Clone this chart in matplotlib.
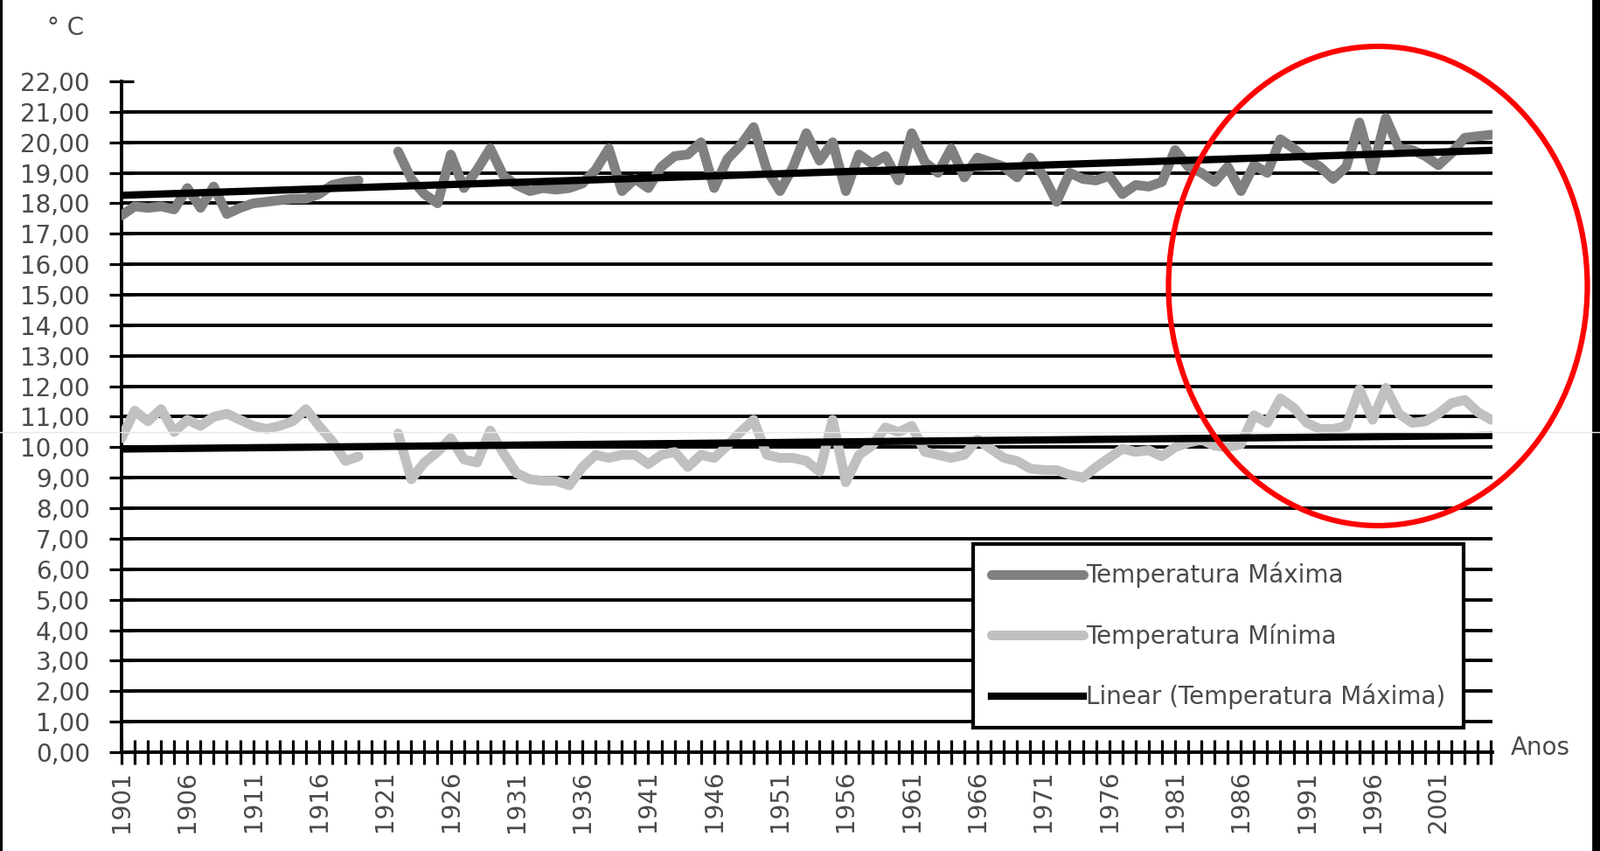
import numpy as np
import matplotlib
matplotlib.use("Agg")
import matplotlib.pyplot as plt
from matplotlib.patches import Ellipse
from matplotlib.lines import Line2D
from matplotlib.ticker import FuncFormatter, MultipleLocator, FixedLocator

nan = np.nan

# yearly values (1920-1921 missing)
years = list(range(1901, 2006))

t_max = [
    17.6, 17.9, 17.85, 17.9, 17.8, 18.5, 17.85, 18.55, 17.65, 17.85,   # 1901-1910
    18.0, 18.05, 18.1, 18.15, 18.15, 18.3, 18.6, 18.7, 18.75, nan,     # 1911-1920
    nan, 19.7, 18.8, 18.3, 18.0, 19.6, 18.5, 19.1, 19.8, 18.9,         # 1921-1930
    18.6, 18.4, 18.5, 18.45, 18.5, 18.65, 19.1, 19.8, 18.4, 18.8,      # 1931-1940
    18.5, 19.2, 19.55, 19.6, 20.0, 18.5, 19.45, 19.9, 20.5, 19.1,      # 1941-1950
    18.4, 19.2, 20.3, 19.4, 20.0, 18.4, 19.6, 19.3, 19.55, 18.75,      # 1951-1960
    20.3, 19.35, 19.0, 19.8, 18.85, 19.5, 19.35, 19.2, 18.85, 19.5,    # 1961-1970
    18.9, 18.05, 19.0, 18.8, 18.75, 18.9, 18.3, 18.6, 18.55, 18.7,     # 1971-1980
    19.75, 19.2, 19.0, 18.7, 19.2, 18.4, 19.25, 19.0, 20.1, 19.8,      # 1981-1990
    19.45, 19.2, 18.8, 19.2, 20.65, 19.1, 20.8, 19.8, 19.75, 19.55,    # 1991-2000
    19.25, 19.65, 20.15, 20.2, 20.25,                                  # 2001-2005
]

t_min = [
    10.3, 11.2, 10.85, 11.25, 10.5, 10.9, 10.7, 11.0, 11.1, 10.9,      # 1901-1910
    10.7, 10.6, 10.7, 10.85, 11.25, 10.7, 10.2, 9.55, 9.7, nan,        # 1911-1920
    nan, 10.45, 8.95, 9.5, 9.85, 10.3, 9.6, 9.5, 10.55, 9.8,           # 1921-1930
    9.15, 8.95, 8.9, 8.9, 8.75, 9.35, 9.75, 9.65, 9.75, 9.75,          # 1931-1940
    9.45, 9.75, 9.85, 9.35, 9.75, 9.65, 10.05, 10.5, 10.9, 9.75,       # 1941-1950
    9.65, 9.65, 9.55, 9.2, 10.9, 8.85, 9.75, 10.05, 10.65, 10.5,       # 1951-1960
    10.7, 9.85, 9.75, 9.65, 9.75, 10.25, 9.95, 9.65, 9.55, 9.3,        # 1961-1970
    9.25, 9.25, 9.1, 9.0, 9.35, 9.65, 9.95, 9.85, 9.9, 9.7,            # 1971-1980
    10.0, 10.15, 10.25, 10.05, 10.0, 10.1, 11.05, 10.8, 11.6, 11.3,    # 1981-1990
    10.8, 10.6, 10.6, 10.7, 11.9, 10.9, 11.95, 11.1, 10.8, 10.85,      # 1991-2000
    11.1, 11.45, 11.55, 11.15, 10.9,                                   # 2001-2005
]

label_years = list(range(1901, 2002, 5))
y_ticks = list(range(0, 23))

x = np.array(years, dtype=float)
tmax = np.array(t_max)
tmin = np.array(t_min)


def trend(xv, yv):
    ok = ~np.isnan(yv)
    k, b = np.polyfit(xv[ok], yv[ok], 1)
    return k * xv + b


W, H = 1831, 973
fig = plt.figure(figsize=(W / 100, H / 100), dpi=100)
ax = fig.add_axes([139 / W, 1 - 860 / H, (1707 - 139) / W, (860 - 93) / H])

txt = "#4a4a4a"
fs = 20

ax.plot(x, tmax, color="#808080", lw=8, solid_joinstyle="round",
        solid_capstyle="round", label="Temperatura Máxima", zorder=3)
ax.plot(x, tmin, color="#c0c0c0", lw=8, solid_joinstyle="round",
        solid_capstyle="round", label="Temperatura Mínima", zorder=3)
ax.plot(x, trend(x, tmax), color="black", lw=6,
        label="Linear (Temperatura Máxima)", zorder=4)
ax.plot(x, trend(x, tmin), color="black", lw=6, zorder=4)

ax.set_xlim(1901, 2005.1)
ax.set_ylim(0, 22)

ax.yaxis.set_major_locator(FixedLocator(y_ticks))
ax.yaxis.set_major_formatter(FuncFormatter(lambda v, p: f"{v:.2f}".replace(".", ",")))
ax.xaxis.set_major_locator(FixedLocator(label_years))
ax.xaxis.set_minor_locator(MultipleLocator(1))
ax.set_xticklabels([str(y) for y in label_years], rotation=90)

ax.set_axisbelow(True)
ax.yaxis.grid(True, color="black", lw=2.8)
ax.yaxis.get_gridlines()[-1].set_visible(False)
ax.yaxis.get_gridlines()[0].set_visible(False)

for s in ["top", "right"]:
    ax.spines[s].set_visible(False)
for s in ["left", "bottom"]:
    ax.spines[s].set_color("black")
    ax.spines[s].set_linewidth(2.8)

ax.tick_params(axis="both", which="both", direction="inout", length=20,
               width=2.3, color="black", labelcolor=txt, labelsize=fs)
ax.tick_params(axis="y", pad=16)
ax.tick_params(axis="x", pad=5)

leg = ax.legend(loc="upper left", bbox_to_anchor=(1113 / W, 1 - 622 / H),
                bbox_transform=fig.transFigure, borderaxespad=0,
                fontsize=fs, labelcolor=txt, handlelength=3.8,
                handletextpad=0.1, labelspacing=1.45, borderpad=0.75,
                fancybox=False, framealpha=1, edgecolor="black")
leg.get_frame().set_linewidth(3)
leg.set_zorder(10)

fig.text(54 / W, 1 - 40 / H, "° C", fontsize=fs, color=txt, ha="left", va="baseline")
fig.text(1728 / W, 1 - 855 / H, "Anos", fontsize=fs, color=txt, ha="left", va="center")

# red circle drawn over the recent years
fig.add_artist(Ellipse((1576 / W, 1 - 327 / H), 479 / W, 548 / H,
                       transform=fig.transFigure, fill=False,
                       edgecolor="#ff0000", lw=4.5, zorder=20))

# frame of the scanned image
fig.add_artist(Line2D([1.5 / W, 1.5 / W], [0, 1], transform=fig.transFigure, color="black", lw=3))
fig.add_artist(Line2D([1826 / W, 1826 / W], [0, 1], transform=fig.transFigure, color="black", lw=7))
fig.add_artist(Line2D([0, 1], [1 - 494 / H, 1 - 494 / H], transform=fig.transFigure,
                      color="#e8e8e8", lw=1))

fig.savefig("out.png", dpi=100, facecolor="white")
